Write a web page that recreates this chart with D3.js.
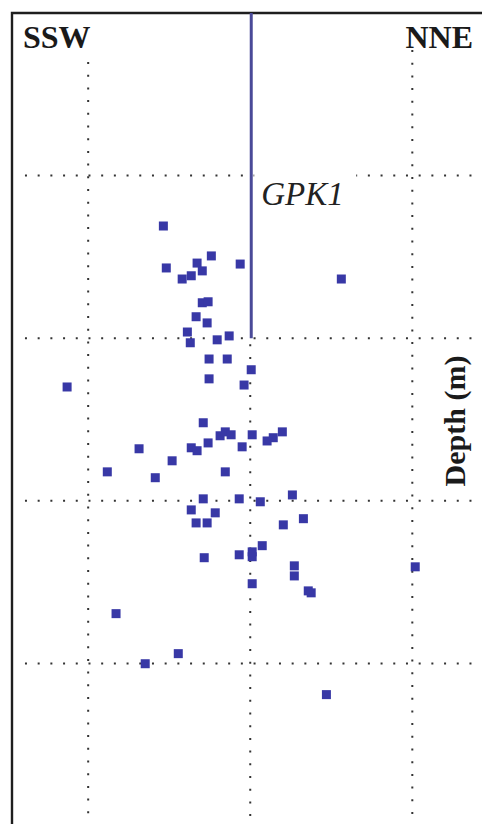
<!DOCTYPE html>
<html>
<head>
<meta charset="utf-8">
<script src="https://cdn.jsdelivr.net/npm/d3@7"></script>
<style>
  html, body { margin: 0; padding: 0; background: #fff; }
  svg { display: block; }
</style>
</head>
<body>
<svg id="chart" width="482" height="824"></svg>
<script>
// Horizontal offset along SSW–NNE section (m, relative to GPK1) and depth (m)
const offsets = [-268,-120,-259,-164,-148,-210,-182,-31,281,-148,-130,-167,-133,-194,-185,-102,-65,-127,-71,3,-127,-19,-565,
  -145,-93,-77,-59,6,52,71,99,-130,-25,-343,-182,-164,-241,-441,-77,-293,
  -145,-34,31,130,-182,-108,-167,-133,102,164,-142,-34,6,6,37,136,136,509,6,179,188,
  -414,-222,-324,235];
const depths = [3155,3247,3284,3269,3293,3318,3308,3272,3318,3391,3388,3434,3453,3481,3514,3505,3493,3564,3564,3597,3625,3644,3650,
  3760,3800,3788,3797,3797,3816,3806,3788,3822,3834,3840,3837,3846,3877,3911,3911,3929,
  3994,3994,4003,3982,4028,4037,4068,4068,4074,4055,4175,4166,4157,4172,4138,4200,4231,4203,4255,4277,4283,
  4347,4470,4501,4596];
const gridOffsets = [-500, 500];
const gridDepths = [3000, 3500, 4000, 4500];
const wellName = "GPK1";
const wellBottom = 3500;
const leftLabel = "SSW", rightLabel = "NNE", depthLabel = "Depth (m)";

const svg = d3.select("#chart");
const x = d3.scaleLinear().domain([-735, 715]).range([12, 482]);
const y = d3.scaleLinear().domain([2500, 5000]).range([13, 826]);

const gridColor = "#333";
const dash = "2,10.7";

// horizontal grid lines
svg.append("g").selectAll("line").data(gridDepths).join("line")
  .attr("x1", x(-695)).attr("x2", x(695))
  .attr("y1", d => y(d)).attr("y2", d => y(d))
  .attr("stroke", gridColor).attr("stroke-width", 2)
  .attr("stroke-dasharray", dash);

// vertical grid lines
svg.append("g").selectAll("line").data(gridOffsets).join("line")
  .attr("x1", d => x(d)).attr("x2", d => x(d))
  .attr("y1", (d, i) => i === 0 ? 62 : 50).attr("y2", 824)
  .attr("stroke", gridColor).attr("stroke-width", 2)
  .attr("stroke-dasharray", dash);
// centre grid line below the well
svg.append("line")
  .attr("x1", x(0)).attr("x2", x(0))
  .attr("y1", y(wellBottom) + 6).attr("y2", 824)
  .attr("stroke", gridColor).attr("stroke-width", 2)
  .attr("stroke-dasharray", dash);

// frame (left + top)
svg.append("path")
  .attr("d", `M${x(-735)},826 L${x(-735)},${y(2500)} L482,${y(2500)}`)
  .attr("fill", "none").attr("stroke", "#1e1e1e").attr("stroke-width", 2.4);

// well trajectory
svg.append("line")
  .attr("x1", x(0) + 1).attr("x2", x(0) + 1)
  .attr("y1", y(2500)).attr("y2", y(wellBottom))
  .attr("stroke", "#4a4a98").attr("stroke-width", 3);

// well label with white knock-out
const lbl = svg.append("g");
lbl.append("rect").attr("x", x(0) + 4).attr("y", y(3000) - 6)
  .attr("width", 102).attr("height", 32).attr("fill", "#fff");
lbl.append("text").attr("x", x(0) + 11).attr("y", 205)
  .attr("font-family", "Liberation Serif, Times New Roman, serif")
  .attr("font-style", "italic").attr("font-size", 33)
  .attr("fill", "#222").text(wellName);

// events
svg.append("g").selectAll("rect").data(offsets.map((o, i) => [o, depths[i]])).join("rect")
  .attr("x", d => x(d[0]) - 4.5).attr("y", d => y(d[1]) - 4.5)
  .attr("width", 9).attr("height", 9)
  .attr("fill", "#3838a6");

// labels
svg.append("text").attr("x", 23).attr("y", 48)
  .attr("font-family", "Liberation Serif, Times New Roman, serif")
  .attr("font-weight", "bold").attr("font-size", 32).attr("fill", "#1a1a1a")
  .text(leftLabel);
svg.append("text").attr("x", 473).attr("y", 48).attr("text-anchor", "end")
  .attr("font-family", "Liberation Serif, Times New Roman, serif")
  .attr("font-weight", "bold").attr("font-size", 32).attr("fill", "#1a1a1a")
  .text(rightLabel);
svg.append("text")
  .attr("transform", "translate(465,421) rotate(-90)")
  .attr("text-anchor", "middle")
  .attr("font-family", "Liberation Serif, Times New Roman, serif")
  .attr("font-weight", "bold").attr("font-size", 30).attr("fill", "#1a1a1a")
  .text(depthLabel);
</script>
</body>
</html>
